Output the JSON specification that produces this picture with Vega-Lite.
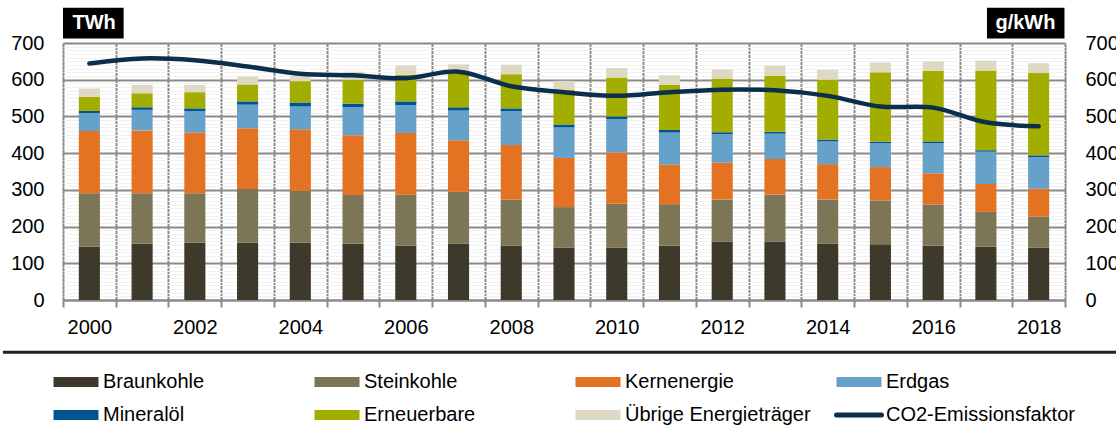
{
  "$schema": "https://vega.github.io/schema/vega-lite/v6.json",
  "width": 1002,
  "height": 257,
  "autosize": {"type": "none"},
  "padding": {"left": 63, "top": 43, "right": 51, "bottom": 135},
  "config": {
    "font": "Liberation Sans",
    "view": {"stroke": null},
    "axis": {"labelFontSize": 20, "labelColor": "#000000", "title": null},
    "legend": {"labelFontSize": 20, "labelColor": "#000000"}
  },
  "data": {
    "values": [
      {"year": 2000, "Braunkohle": 146, "Steinkohle": 145, "Kernenergie": 169, "Erdgas": 49, "Mineralöl": 6, "Erneuerbare": 38, "Übrige Energieträger": 23, "co2": 644},
      {"year": 2001, "Braunkohle": 153, "Steinkohle": 138, "Kernenergie": 171, "Erdgas": 56, "Mineralöl": 7, "Erneuerbare": 38, "Übrige Energieträger": 23, "co2": 658},
      {"year": 2002, "Braunkohle": 156, "Steinkohle": 135, "Kernenergie": 165, "Erdgas": 58, "Mineralöl": 8, "Erneuerbare": 44, "Übrige Energieträger": 20, "co2": 653},
      {"year": 2003, "Braunkohle": 156, "Steinkohle": 146, "Kernenergie": 166, "Erdgas": 64, "Mineralöl": 9, "Erneuerbare": 46, "Übrige Energieträger": 22, "co2": 636},
      {"year": 2004, "Braunkohle": 156, "Steinkohle": 141, "Kernenergie": 168, "Erdgas": 62, "Mineralöl": 11, "Erneuerbare": 58, "Übrige Energieträger": 14, "co2": 616},
      {"year": 2005, "Braunkohle": 153, "Steinkohle": 133, "Kernenergie": 163, "Erdgas": 76, "Mineralöl": 10, "Erneuerbare": 65, "Übrige Energieträger": 22, "co2": 612},
      {"year": 2006, "Braunkohle": 148, "Steinkohle": 139, "Kernenergie": 168, "Erdgas": 76, "Mineralöl": 10, "Erneuerbare": 72, "Übrige Energieträger": 26, "co2": 604},
      {"year": 2007, "Braunkohle": 154, "Steinkohle": 141, "Kernenergie": 140, "Erdgas": 81, "Mineralöl": 9, "Erneuerbare": 92, "Übrige Energieträger": 25, "co2": 622},
      {"year": 2008, "Braunkohle": 148, "Steinkohle": 126, "Kernenergie": 148, "Erdgas": 92, "Mineralöl": 8, "Erneuerbare": 93, "Übrige Energieträger": 26, "co2": 582},
      {"year": 2009, "Braunkohle": 143, "Steinkohle": 110, "Kernenergie": 134, "Erdgas": 83, "Mineralöl": 8, "Erneuerbare": 95, "Übrige Energieträger": 24, "co2": 566},
      {"year": 2010, "Braunkohle": 143, "Steinkohle": 119, "Kernenergie": 140, "Erdgas": 91, "Mineralöl": 7, "Erneuerbare": 106, "Übrige Energieträger": 26, "co2": 556},
      {"year": 2011, "Braunkohle": 148, "Steinkohle": 113, "Kernenergie": 108, "Erdgas": 87, "Mineralöl": 7, "Erneuerbare": 123, "Übrige Energieträger": 26, "co2": 566},
      {"year": 2012, "Braunkohle": 159, "Steinkohle": 115, "Kernenergie": 100, "Erdgas": 78, "Mineralöl": 5, "Erneuerbare": 146, "Übrige Energieträger": 25, "co2": 573},
      {"year": 2013, "Braunkohle": 159, "Steinkohle": 128, "Kernenergie": 97, "Erdgas": 69, "Mineralöl": 5, "Erneuerbare": 153, "Übrige Energieträger": 27, "co2": 571},
      {"year": 2014, "Braunkohle": 154, "Steinkohle": 120, "Kernenergie": 96, "Erdgas": 62, "Mineralöl": 5, "Erneuerbare": 163, "Übrige Energieträger": 27, "co2": 556},
      {"year": 2015, "Braunkohle": 152, "Steinkohle": 119, "Kernenergie": 91, "Erdgas": 65, "Mineralöl": 4, "Erneuerbare": 189, "Übrige Energieträger": 27, "co2": 527},
      {"year": 2016, "Braunkohle": 148, "Steinkohle": 112, "Kernenergie": 85, "Erdgas": 82, "Mineralöl": 5, "Erneuerbare": 192, "Übrige Energieträger": 26, "co2": 524},
      {"year": 2017, "Braunkohle": 146, "Steinkohle": 94, "Kernenergie": 76, "Erdgas": 88, "Mineralöl": 4, "Erneuerbare": 217, "Übrige Energieträger": 27, "co2": 484},
      {"year": 2018, "Braunkohle": 143, "Steinkohle": 84, "Kernenergie": 76, "Erdgas": 86, "Mineralöl": 5, "Erneuerbare": 224, "Übrige Energieträger": 27, "co2": 473}
    ]
  },
  "layer": [
    {
      "transform": [
        {"fold": ["Braunkohle", "Steinkohle", "Kernenergie", "Erdgas", "Mineralöl", "Erneuerbare", "Übrige Energieträger"], "as": ["source", "twh"]},
        {"calculate": "indexof(['Braunkohle','Steinkohle','Kernenergie','Erdgas','Mineralöl','Erneuerbare','Übrige Energieträger'], datum.source)", "as": "idx"}
      ],
      "mark": {"type": "bar", "width": {"band": 0.4}},
      "encoding": {
        "x": {
          "field": "year", "type": "ordinal",
          "scale": {"paddingInner": 0, "paddingOuter": 0},
          "axis": {
            "title": null, "labelAngle": 0, "tickBand": "extent",
            "labelExpr": "datum.value % 2 === 0 ? datum.label : ''",
            "grid": true, "gridColor": "#8a8a8a", "gridWidth": 2,
            "domainColor": "#8a8a8a", "domainWidth": 2,
            "tickColor": "#8a8a8a", "tickWidth": 2, "tickSize": 7,
            "labelPadding": 10, "labelFontSize": 20
          }
        },
        "y": {
          "field": "twh", "type": "quantitative", "stack": "zero",
          "scale": {"domain": [0, 700], "nice": false},
          "axis": {
            "title": null, "orient": "left",
            "values": [0,10,20,30,40,50,60,70,80,90,100,110,120,130,140,150,160,170,180,190,200,210,220,230,240,250,260,270,280,290,300,310,320,330,340,350,360,370,380,390,400,410,420,430,440,450,460,470,480,490,500,510,520,530,540,550,560,570,580,590,600,610,620,630,640,650,660,670,680,690,700],
            "labelExpr": "datum.value % 100 === 0 ? datum.label : ''",
            "labelOverlap": false, "labelBound": false,
            "grid": true,
            "gridColor": {"condition": {"test": "datum.value % 100 === 0", "value": "#8a8a8a"}, "value": "#f1f1f1"},
            "gridWidth": {"condition": {"test": "datum.value % 100 === 0", "value": 2}, "value": 1},
            "ticks": false, "domain": false, "labelPadding": 19, "labelFontSize": 20
          }
        },
        "color": {
          "field": "source", "type": "nominal",
          "scale": {
            "domain": ["Braunkohle", "Steinkohle", "Kernenergie", "Erdgas", "Mineralöl", "Erneuerbare", "Übrige Energieträger", "CO2-Emissionsfaktor"],
            "range": ["#3e3a2b", "#7c7556", "#e37222", "#65a1c9", "#00548f", "#a3ad00", "#ded9c3", "#0b2e4c"]
          },
          "legend": {
            "title": null, "orient": "bottom", "direction": "horizontal", "columns": 4,
            "gridAlign": "all", "columnPadding": 12, "rowPadding": 13, "padding": 3,
            "labelFontSize": 20, "labelOffset": 17, "labelLimit": 400, "symbolSize": 2025, "offset": 32,
            "encode": {
              "symbols": {
                "update": {
                  "shape": {"signal": "datum.value === 'CO2-Emissionsfaktor' ? 'M-1,0H1' : 'M-1,-0.222H1V0.222H-1Z'"},
                  "fill": {"signal": "datum.value === 'CO2-Emissionsfaktor' ? 'transparent' : scale('color', datum.value)"},
                  "stroke": {"signal": "datum.value === 'CO2-Emissionsfaktor' ? '#0b2e4c' : 'transparent'"},
                  "strokeWidth": {"signal": "datum.value === 'CO2-Emissionsfaktor' ? 5 : 0"},
                  "strokeCap": {"value": "round"},
                  "opacity": {"value": 1},
                  "fillOpacity": {"value": 1}
                }
              }
            }
          }
        },
        "order": {"field": "idx", "type": "quantitative"}
      }
    },
    {
      "mark": {"type": "line", "interpolate": "catmull-rom", "strokeWidth": 4.5, "strokeCap": "round"},
      "encoding": {
        "x": {"field": "year", "type": "ordinal"},
        "y": {
          "field": "co2", "type": "quantitative",
          "scale": {"domain": [0, 700], "nice": false},
          "axis": {
            "title": null, "orient": "right",
            "values": [0, 100, 200, 300, 400, 500, 600, 700],
            "grid": false, "ticks": false, "domain": false,
            "labelPadding": 20, "labelFontSize": 20
          }
        },
        "color": {"datum": "CO2-Emissionsfaktor"}
      }
    },
    {
      "data": {"values": [{"unit": "TWh"}]},
      "mark": {"type": "rect", "color": "#000000"},
      "encoding": {
        "x": {"datum": 2000, "type": "ordinal", "bandPosition": 0},
        "x2": {"datum": 2001, "bandPosition": 0.15},
        "y": {"datum": 796, "type": "quantitative", "scale": {"domain": [0, 700], "nice": false}, "axis": null},
        "y2": {"datum": 712}
      }
    },
    {
      "data": {"values": [{"unit": "TWh"}]},
      "mark": {"type": "text", "color": "#ffffff", "fontWeight": "bold", "fontSize": 20, "baseline": "middle", "align": "center"},
      "encoding": {
        "x": {"datum": 2000, "type": "ordinal", "bandPosition": 0.59},
        "y": {"datum": 754, "type": "quantitative", "scale": {"domain": [0, 700], "nice": false}, "axis": null},
        "text": {"field": "unit"}
      }
    },
    {
      "data": {"values": [{"unit": "g/kWh"}]},
      "mark": {"type": "rect", "color": "#000000"},
      "encoding": {
        "x": {"datum": 2017, "type": "ordinal", "bandPosition": 0.52},
        "x2": {"datum": 2018, "bandPosition": 0.99},
        "y": {"datum": 796, "type": "quantitative", "scale": {"domain": [0, 700], "nice": false}, "axis": null},
        "y2": {"datum": 712}
      }
    },
    {
      "data": {"values": [{"unit": "g/kWh"}]},
      "mark": {"type": "text", "color": "#ffffff", "fontWeight": "bold", "fontSize": 20, "baseline": "middle", "align": "center"},
      "encoding": {
        "x": {"datum": 2018, "type": "ordinal", "bandPosition": 0.25},
        "y": {"datum": 754, "type": "quantitative", "scale": {"domain": [0, 700], "nice": false}, "axis": null},
        "text": {"field": "unit"}
      }
    },
    {
      "data": {"values": [{"unit": "sep"}]},
      "mark": {"type": "rule", "color": "#222222", "strokeWidth": 3},
      "encoding": {
        "x": {"datum": 2000, "type": "ordinal", "bandPosition": -1.14},
        "x2": {"datum": 2018, "bandPosition": 1.98},
        "y": {"datum": -142, "type": "quantitative", "scale": {"domain": [0, 700], "nice": false}, "axis": null}
      }
    }
  ],
  "resolve": {"scale": {"y": "independent"}}
}
